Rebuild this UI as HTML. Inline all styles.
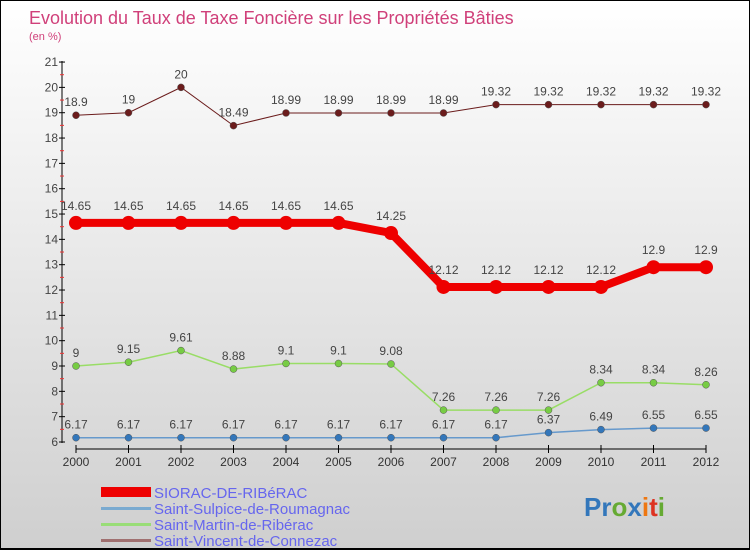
<!DOCTYPE html>
<html><head><meta charset="utf-8"><style>
body{margin:0}
#c{width:750px;height:550px;position:relative;background:linear-gradient(#ffffff,#cfcfcf);box-sizing:border-box;border:1px solid #000;border-bottom:2px solid #000;font-family:"Liberation Sans",sans-serif;overflow:hidden}
</style></head><body>
<div id="c">
<svg id="s" width="750" height="550" style="position:absolute;left:0;top:0">
<text x="28" y="23" font-size="18" fill="#d0407a">Evolution du Taux de Taxe Foncière sur les Propriétés Bâties</text>
<text x="28" y="39" font-size="11" fill="#d0407a">(en %)</text>
<g id="axes"></g><g id="series"></g>
<g>
<rect x="100" y="486" width="50" height="10" fill="#ee0000"/>
<text x="153" y="497" font-size="15" fill="#6666ee">SIORAC-DE-RIBéRAC</text>
<rect x="100" y="506" width="50" height="3" fill="#7aaad0"/>
<text x="153" y="513" font-size="15" fill="#6666ee">Saint-Sulpice-de-Roumagnac</text>
<rect x="100" y="522" width="50" height="3" fill="#99dd77"/>
<text x="153" y="529" font-size="15" fill="#6666ee">Saint-Martin-de-Ribérac</text>
<rect x="100" y="538" width="50" height="3" fill="#a07070"/>
<text x="153" y="545" font-size="15" fill="#6666ee">Saint-Vincent-de-Connezac</text>
</g>
<text x="583" y="515" font-size="26" font-weight="bold"><tspan fill="#3377bb">Pr</tspan><tspan fill="#66aa33">o</tspan><tspan fill="#3377bb">x</tspan><tspan fill="#ee7711">i</tspan><tspan fill="#dd3322">t</tspan><tspan fill="#66aa33">i</tspan></text>
</svg>
</div>
<script>
const years=[2000,2001,2002,2003,2004,2005,2006,2007,2008,2009,2010,2011,2012];
const siorac=[14.65,14.65,14.65,14.65,14.65,14.65,14.25,12.12,12.12,12.12,12.12,12.9,12.9];
const sulpice=[6.17,6.17,6.17,6.17,6.17,6.17,6.17,6.17,6.17,6.37,6.49,6.55,6.55];
const martin=[9,9.15,9.61,8.88,9.1,9.1,9.08,7.26,7.26,7.26,8.34,8.34,8.26];
const vincent=[18.9,19,20,18.49,18.99,18.99,18.99,18.99,19.32,19.32,19.32,19.32,19.32];
const yTicks=[6,7,8,9,10,11,12,13,14,15,16,17,18,19,20,21];
const NS="http://www.w3.org/2000/svg";
const xs=i=>75+i*52.5, ys=v=>441-(v-6)*25.33;
function mk(t,a,p){const e=document.createElementNS(NS,t);for(const k in a)e.setAttribute(k,a[k]);p.appendChild(e);return e;}
const ax=document.getElementById('axes');
const yl=mk('line',{x1:61,y1:60,x2:61,y2:442,stroke:'#000'},ax);


yTicks.forEach(v=>{
 mk('line',{x1:58,x2:64,y1:ys(v),y2:ys(v),stroke:'#000'},ax);
 if(v<21)mk('line',{x1:59,x2:63,y1:ys(v+0.5),y2:ys(v+0.5),stroke:'#e33'},ax);
 const t=mk('text',{x:57,y:ys(v)+4,'text-anchor':'end','font-size':12,fill:'#444'},ax);t.textContent=v;
 
 
});
const xl=mk('line',{x1:75,y1:448,x2:705,y2:448,stroke:'#000'},ax);


years.forEach((y,i)=>{
 mk('line',{x1:xs(i),x2:xs(i),y1:444,y2:452,stroke:'#000'},ax);
 const t=mk('text',{x:xs(i),y:465,'text-anchor':'middle','font-size':12,fill:'#333'},ax);t.textContent=y;
 
 
});
const sg=document.getElementById('series');
[[vincent,'#6b1c1c','#6b1c1c',1,3.5,'vincent'],[martin,'#99dd66','#77cc44',1.5,3.5,'martin'],[sulpice,'#6699cc','#3377bb',1.5,3.5,'sulpice'],[siorac,'#ee0000','#ee0000',8,7,'siorac']].forEach(([d,lc,pc,w,r,n])=>{
 const g=mk('g',{},sg);
 
 
 mk('polyline',{points:d.map((v,i)=>xs(i)+','+ys(v)).join(' '),fill:'none',stroke:lc,'stroke-width':w},g);
 d.forEach((v,i)=>{
  const c=mk('circle',{cx:xs(i),cy:ys(v),r:r,fill:pc,stroke:r<5?'#555':'none','stroke-width':0.5},g);
  
  
  const t=mk('text',{x:xs(i),y:ys(v)-(n=='siorac'?13:9),'text-anchor':'middle','font-size':12,fill:'#444'},g);t.textContent=v;
  
  
 });
});
</script>
</body></html>
